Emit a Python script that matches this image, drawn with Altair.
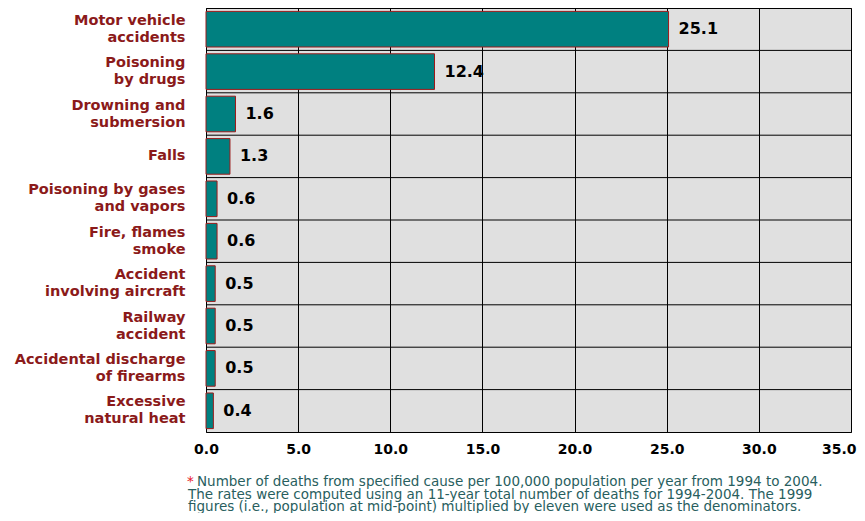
import altair as alt
import pandas as pd

causes = [
    "Motor vehicle|accidents",
    "Poisoning|by drugs",
    "Drowning and|submersion",
    "Falls",
    "Poisoning by gases|and vapors",
    "Fire, flames|smoke",
    "Accident|involving aircraft",
    "Railway|accident",
    "Accidental discharge|of firearms",
    "Excessive|natural heat",
]
rates = [25.1, 12.4, 1.6, 1.3, 0.6, 0.6, 0.5, 0.5, 0.5, 0.4]
x_ticks = [0, 5, 10, 15, 20, 25, 30, 35]
footnote_star = "*"
footnote_lines = [
    "Number of deaths from specified cause per 100,000 population per year from 1994 to 2004.",
    "The rates were computed using an 11-year total number of deaths for 1994-2004. The 1999",
    "figures (i.e., population at mid-point) multiplied by eleven were used as the denominators.",
]

df = pd.DataFrame({"cause": causes, "rate": rates, "label": [f"{v:.1f}" for v in rates]})

FONT = "DejaVu Sans"
LABEL_RED = "#8B1A1A"
NOTE_COL = "#285E5E"

y_enc = alt.Y(
    "cause:N",
    sort=causes,
    scale=alt.Scale(domain=causes, paddingInner=0, paddingOuter=0),
    axis=alt.Axis(
        title=None,
        ticks=False,
        domain=False,
        grid=False,
        labelExpr="split(datum.label, '|')",
        labelFont=FONT,
        labelFontSize=14.5,
        labelFontWeight="bold",
        labelColor=LABEL_RED,
        labelPadding=21,
        labelLineHeight=17,
        labelAlign="right",
        labelBaseline="middle",
        labelLimit=300,
        labelOffset={
            "condition": {"test": "indexof(datum.value, '|') >= 0", "value": -8.5},
            "value": 0,
        },
    ),
)

x_enc = alt.X(
    "rate:Q",
    scale=alt.Scale(domain=[0, 35], nice=False, zero=True),
    axis=alt.Axis(
        title=None,
        values=x_ticks,
        format=".1f",
        ticks=False,
        domain=False,
        grid=True,
        gridColor="black",
        gridOpacity=1,
        gridWidth=1,
        labelFont=FONT,
        labelFontSize=14,
        labelFontWeight="bold",
        labelColor="black",
        labelPadding=10,
        labelFlush=False,
        labelOverlap=False,
        labelAlign={
            "condition": {"test": "datum.value >= 35", "value": "right"},
            "value": "center",
        },
        labelOffset={
            "condition": {"test": "datum.value >= 35", "value": 5},
            "value": 0,
        },
    ),
)

base = alt.Chart(df)

rows = base.mark_rule(color="black", strokeWidth=1).encode(
    y=alt.Y("cause:N", sort=causes, bandPosition=0),
)

bars = base.mark_bar(
    color="#008080", stroke="#9B1B1B", strokeWidth=1, height={"band": 0.84}
).encode(x=x_enc, y=y_enc)

values = base.mark_text(
    align="left", baseline="middle", dx=10, font=FONT, fontSize=16,
    fontWeight="bold", color="black",
).encode(x="rate:Q", y=alt.Y("cause:N", sort=causes), text="label:N")

layers = [bars, rows, values]

star = alt.Chart(pd.DataFrame({"t": [footnote_star]})).mark_text(
    align="left", baseline="alphabetic", font=FONT, fontSize=13.5, color="#E8202A"
).encode(x=alt.value(-19), y=alt.value(478), text="t:N")
layers.append(star)

for i, line in enumerate(footnote_lines):
    x0 = -9 if i == 0 else -18
    layers.append(
        alt.Chart(pd.DataFrame({"t": [line]})).mark_text(
            align="left", baseline="alphabetic", font=FONT, fontSize=13.5, color=NOTE_COL
        ).encode(x=alt.value(x0), y=alt.value(478 + 12.5 * i), text="t:N")
    )

chart = (
    alt.layer(*layers)
    .properties(
        width=645,
        height=424,
        autosize=alt.AutoSizeParams(type="none"),
        padding={"left": 198, "top": 0, "right": 6, "bottom": 81},
        background="white",
    )
    .configure_view(fill="#E0E0E0", stroke="black", strokeWidth=1)
)

chart.save("out.html", embed_options={"renderer": "svg", "actions": False})
